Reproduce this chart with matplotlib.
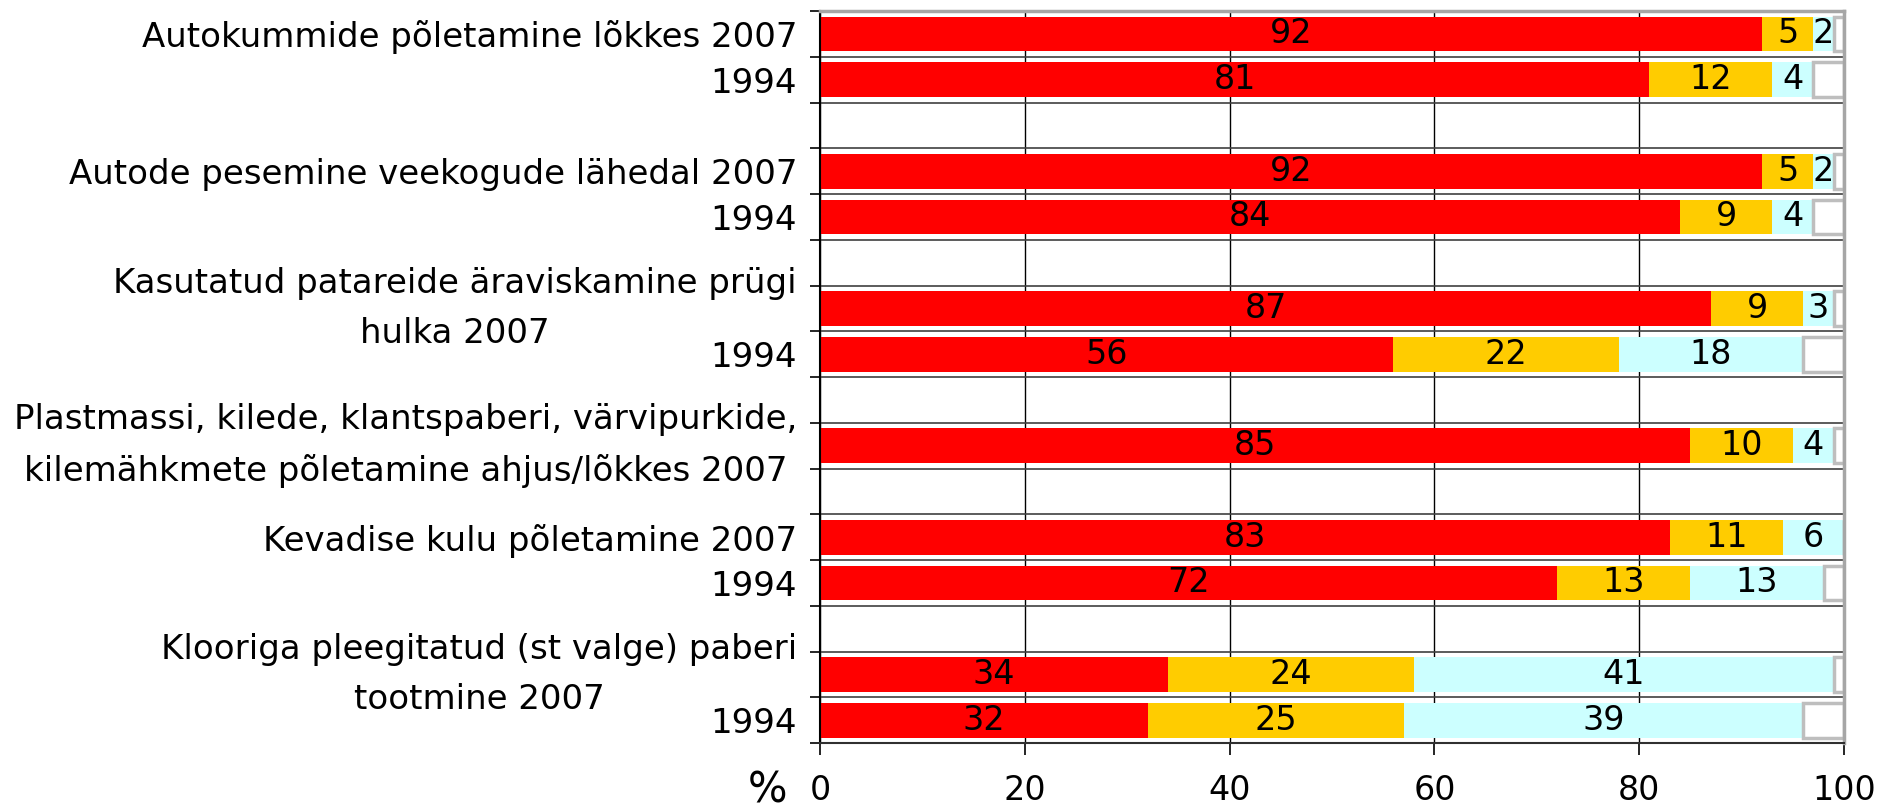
import matplotlib.pyplot as plt
import numpy as np

# Survey topics; each gets a 2007 row, a 1994 row (if asked), then a blank row
topics = [
    'Autokummide põletamine lõkkes',
    'Autode pesemine veekogude lähedal',
    'Kasutatud patareide äraviskamine prügi\nhulka',
    'Plastmassi, kilede, klantspaberi, värvipurkide,\nkilemähkmete põletamine ahjus/lõkkes',
    'Kevadise kulu põletamine',
    'Klooriga pleegitatud (st valge) paberi\ntootmine',
]
red_2007 = [92, 92, 87, 85, 83, 34]
yellow_2007 = [5, 5, 9, 10, 11, 24]
cyan_2007 = [2, 2, 3, 4, 6, 41]
red_1994 = [81, 84, 56, None, 72, 32]
yellow_1994 = [12, 9, 22, None, 13, 25]
cyan_1994 = [4, 4, 18, None, 13, 39]

colors = ['#FF0000', '#FFCC00', '#CCFFFF']

# build the row table
row_labels, rows = [], []
for i, topic in enumerate(topics):
    row_labels.append(topic + ' 2007')
    rows.append((red_2007[i], yellow_2007[i], cyan_2007[i]))
    if red_1994[i] is not None:
        row_labels.append('1994')
        rows.append((red_1994[i], yellow_1994[i], cyan_1994[i]))
    if i < len(topics) - 1:
        row_labels.append('')
        rows.append((np.nan, np.nan, np.nan))

vals = np.array(rows, dtype=float)
y = np.arange(len(rows))
m = ~np.isnan(vals[:, 0])

fig = plt.figure(figsize=(18.79, 8.11), dpi=100)
ax = fig.add_axes([0.4364, 0.0838, 0.5450, 0.9026])

left = np.zeros(len(rows))
for k, color in enumerate(colors):
    bars = ax.barh(y[m], vals[m, k], left=left[m], height=0.76, color=color, zorder=2)
    ax.bar_label(bars, labels=[f'{v:.0f}' for v in vals[m, k]], label_type='center',
                 fontsize=24, color='black')
    left = left + np.nan_to_num(vals[:, k])
rest = 100 - left
ax.barh(y[m], rest[m], left=left[m], height=0.76, color='white',
        edgecolor='#BEBEBE', linewidth=2.5, zorder=2)

ax.set_xlim(0, 100)
ax.set_ylim(len(rows) - 0.5, -0.5)
ax.set_xticks(range(0, 101, 20))
ax.tick_params(axis='x', length=8.6, width=1.2, pad=14, labelsize=24)

ax.set_yticks(np.arange(len(rows) + 1) - 0.5)
ax.tick_params(axis='y', which='major', length=7.2, width=1.2, labelleft=False)
ax.set_yticks(y, row_labels, minor=True)
ax.tick_params(axis='y', which='minor', length=0, pad=16.5)
for t in ax.get_yticklabels(minor=True):
    t.set_fontsize(24.5)
    t.set_multialignment('center')
    t.set_linespacing(1.65)
    if '\n' in t.get_text():
        t.set_verticalalignment('center')

ax.set_axisbelow(True)
ax.grid(axis='x', color='black', linewidth=1)
ax.grid(axis='y', which='major', color='#404040', linewidth=1.2)

ax.spines['left'].set_color('black')
ax.spines['left'].set_linewidth(1.5)
ax.spines['bottom'].set_color('#303030')
ax.spines['bottom'].set_linewidth(1.5)
for s in ('top', 'right'):
    ax.spines[s].set_color('#A6A6A6')
    ax.spines[s].set_linewidth(2.5)

ax.text(-0.051, -0.081, '%', transform=ax.transAxes, ha='center', va='baseline',
        fontsize=30)

fig.savefig('out.png', dpi=100)
